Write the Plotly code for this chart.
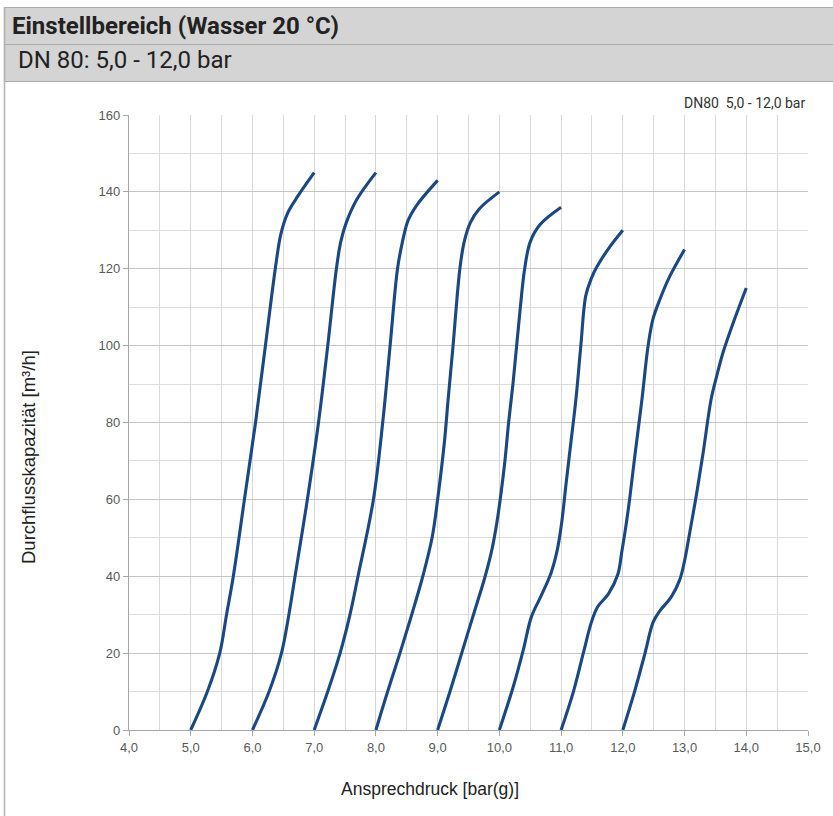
import plotly.graph_objects as go

# Set-pressure ranges (start of each curve, bar(g))
curve_names = ["5,0", "6,0", "7,0", "8,0", "9,0", "10,0", "11,0", "12,0"]

# Each curve: set pressure [bar(g)] vs. flow capacity [m³/h]
p_50 = [5.0, 5.27, 5.47, 5.58, 5.69, 5.87, 6.05, 6.21, 6.37, 6.46, 6.57, 6.74, 7.0]
q_50 = [0, 10, 20, 30, 40, 60, 80, 100, 120, 129, 134.5, 139, 145]

p_60 = [6.0, 6.27, 6.47, 6.59, 6.69, 6.89, 7.07, 7.22, 7.36, 7.43, 7.52, 7.69, 8.0]
q_60 = [0, 10, 20, 30, 40, 60, 80, 100, 120, 127, 132, 138, 145]

p_70 = [7.0, 7.22, 7.42, 7.58, 7.71, 7.96, 8.11, 8.23, 8.35, 8.43, 8.52, 8.66, 9.0]
q_70 = [0, 10, 20, 30, 40, 60, 80, 100, 120, 127, 132.5, 136.5, 143]

p_80 = [8.0, 8.19, 8.39, 8.58, 8.76, 8.91, 9.0, 9.11, 9.17, 9.25, 9.36, 9.43, 9.53, 9.67, 10.0]
q_80 = [0, 10, 20, 30, 40, 50, 60, 75, 86, 100, 120, 127, 132, 135.5, 140]

p_90 = [9.0, 9.2, 9.39, 9.58, 9.77, 9.88, 9.96, 10.03, 10.09, 10.15, 10.22, 10.28, 10.34, 10.41, 10.5, 10.66, 11.0]
q_90 = [0, 10, 20, 30, 40, 47, 54, 62, 70, 80, 90, 100, 110, 120, 127, 131.5, 136]

p_100 = [10.0, 10.22, 10.39, 10.52, 10.68, 10.84, 10.94, 11.01, 11.08, 11.16, 11.24, 11.32, 11.40, 11.49, 11.58, 11.78, 12.0]
q_100 = [0, 11, 21, 29.5, 35, 41, 47, 54, 64, 75, 86, 100, 113, 117.5, 120.5, 125.5, 130]

p_110 = [11.0, 11.2, 11.36, 11.49, 11.59, 11.77, 11.92, 11.98, 12.04, 12.11, 12.2, 12.31, 12.41, 12.49, 12.6, 12.76, 13.0]
q_110 = [0, 10, 20, 28, 32, 35.5, 40.5, 46, 52, 60, 72, 86, 100, 107, 112, 118, 125]

p_120 = [12.0, 12.19, 12.36, 12.49, 12.6, 12.78, 12.92, 13.0, 13.08, 13.19, 13.3, 13.43, 13.52, 13.62, 13.79, 14.0]
q_120 = [0, 10, 20, 28, 31, 34.5, 39, 44, 51, 61, 72, 86, 92, 98, 106, 115]

curves_p = [p_50, p_60, p_70, p_80, p_90, p_100, p_110, p_120]
curves_q = [q_50, q_60, q_70, q_80, q_90, q_100, q_110, q_120]

x_range = [4.0, 15.0]
y_range = [0, 160]

# Plot area in pixels (figure 833 x 816)
W, H = 833, 816
L, R, T, B = 129, 808, 115, 730
PW, PH = R - L, B - T


def px(x):
    return (x - L) / PW


def py(y):
    return (B - y) / PH


LINE = "#1a4882"
HEAD_FILL = "#d4d4d4"
HEAD_EDGE = "#a9a9a9"

fig = go.Figure()
for name, xs, ys in zip(curve_names, curves_p, curves_q):
    fig.add_trace(go.Scatter(
        x=xs, y=ys, mode="lines", name=name,
        line=dict(color=LINE, width=3.1, shape="spline", smoothing=1.0),
        showlegend=False, hoverinfo="skip",
    ))

shapes = [
    # header rows
    dict(type="rect", xref="paper", yref="paper", x0=px(4.5), x1=px(W + 5), y0=py(44.5), y1=py(7.5),
         fillcolor=HEAD_FILL, line=dict(color=HEAD_EDGE, width=1.2), layer="below"),
    dict(type="rect", xref="paper", yref="paper", x0=px(4.5), x1=px(W + 5), y0=py(81.5), y1=py(44.5),
         fillcolor=HEAD_FILL, line=dict(color=HEAD_EDGE, width=1.2), layer="below"),
    # left frame line
    dict(type="line", xref="paper", yref="paper", x0=px(4.5), x1=px(4.5), y0=py(H + 5), y1=py(7.5),
         line=dict(color="#b5b5b5", width=1.6)),
]

annotations = [
    dict(text="<b>Einstellbereich (Wasser 20 °C)</b>", xref="paper", yref="paper",
         x=px(10), y=py(26), xanchor="left", yanchor="middle", showarrow=False,
         font=dict(family="Roboto", size=24, color="#222222")),
    dict(text="DN 80: 5,0 - 12,0 bar", xref="paper", yref="paper",
         x=px(16), y=py(60), xanchor="left", yanchor="middle", showarrow=False,
         font=dict(family="Roboto", size=24, color="#222222")),
    dict(text="DN80\u00a0\u00a05,0 - 12,0 bar", xref="paper", yref="paper",
         x=px(807), y=py(103), xanchor="right", yanchor="middle", showarrow=False,
         font=dict(family="Roboto", size=14, color="#333333")),
    dict(text="Durchflusskapazität [m³/h]", xref="paper", yref="paper",
         x=px(28), y=py(457), xanchor="center", yanchor="middle", showarrow=False,
         textangle=-90, font=dict(family="Liberation Sans", size=18.5, color="#222222")),
    dict(text="Ansprechdruck [bar(g)]", xref="paper", yref="paper",
         x=px(430), y=py(789), xanchor="center", yanchor="middle", showarrow=False,
         font=dict(family="Liberation Sans", size=17.5, color="#222222")),
]

fig.update_layout(
    width=W, height=H,
    margin=dict(l=L, r=W - R, t=T, b=H - B, pad=0),
    paper_bgcolor="white", plot_bgcolor="white",
    separators=",.",
    shapes=shapes, annotations=annotations,
    font=dict(family="Liberation Sans", size=13, color="#595959"),
)

fig.update_xaxes(
    range=x_range, dtick=1, tick0=4, tickformat=".1f",
    showgrid=True, gridcolor="#d6d6d6", gridwidth=1.2,
    minor=dict(dtick=0.5, showgrid=True, gridcolor="#dadada", gridwidth=1.2),
    showline=True, linecolor="#a6a6a6", linewidth=1.2, mirror=False,
    ticks="outside", ticklen=5, tickcolor="#a6a6a6", zeroline=False,
    tickfont=dict(family="Liberation Sans", size=13, color="#595959"),
)
fig.update_yaxes(
    range=y_range, dtick=20, tick0=0,
    showgrid=True, gridcolor="#c6c6c6", gridwidth=1.4,
    minor=dict(dtick=10, showgrid=True, gridcolor="#dedede", gridwidth=1.2),
    showline=True, linecolor="#a6a6a6", linewidth=1.2, mirror=False,
    ticks="outside", ticklen=5, tickcolor="#a6a6a6", zeroline=False,
    tickfont=dict(family="Liberation Sans", size=13, color="#595959"),
)

fig.write_html("out.html")
